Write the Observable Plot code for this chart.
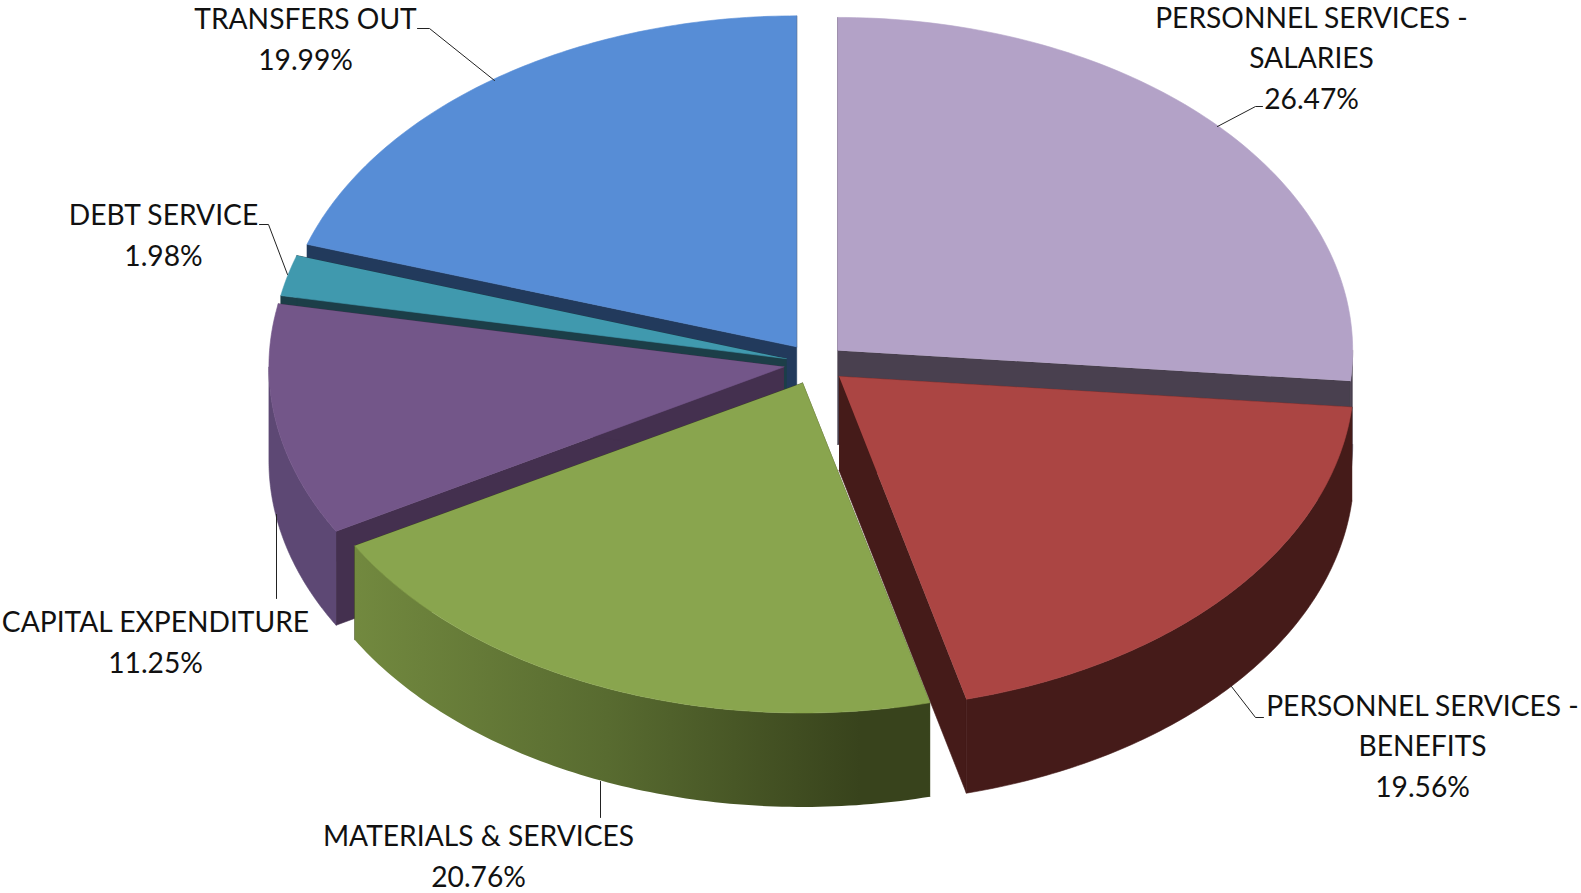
<!DOCTYPE html>
<html>
<head>
<meta charset="utf-8">
<script src="https://cdn.jsdelivr.net/npm/d3@7"></script>
<script src="https://cdn.jsdelivr.net/npm/@observablehq/plot@0.6"></script>
<style>html,body{margin:0;padding:0;background:#fff;overflow:hidden}svg{display:block}</style>
</head>
<body>
<div id="chart"></div>
<script>
// Chart values
const names = ["PERSONNEL SERVICES -\nSALARIES", "PERSONNEL SERVICES -\nBENEFITS", "MATERIALS & SERVICES", "CAPITAL EXPENDITURE", "DEBT SERVICE", "TRANSFERS OUT"];
const shares = [26.47, 19.56, 20.76, 11.25, 1.98, 19.99];
const topColors = ["#b3a2c7", "#ab4543", "#89a54e", "#735689", "#4099ae", "#578dd6"];
const sideColors = ["#49404f", "#451b19", "url(#greenWall)", "#5d4874", "#1c3e48", "#223a5c"];
const cutColors = ["#49404f", "#451b19", "#3a451e", "#44304f", "#1c3e48", "#223a5c"];
const explode = [30, 31, 33, 32, 30, 32];
const sliceRy = [333, 333, 330, 333, 333, 331];
const drawOrder = [5, 4, 3, 0, 1, 2];

// Layout of the tilted pie and its labels (pixels of the frame)
const cx = 815, cy = 363, rx = 515, depth = 94;
const labelX = [1311, 1422, 478, 155, 163, 305];
const labelY = [55, 743, 853, 639, 232, 36];
const leaders = [
  [[1217, 126], [1255, 106], [1262, 106]],
  [[1231, 686], [1255, 717], [1263, 717]],
  [[600, 781], [600, 817]],
  [[276, 514], [276, 598]],
  [[259, 224], [268, 224], [287, 274]],
  [[417, 28], [429, 28], [494, 80]]
];

const rad = (d) => d * Math.PI / 180;
const total = d3.sum(shares);
const cumulative = d3.cumsum(shares);
const slices = shares.map((v, i) => {
  const a0 = (cumulative[i] - v) / total * 360;
  const a1 = cumulative[i] / total * 360;
  const mid = rad((a0 + a1) / 2);
  const ry = sliceRy[i];
  return {i, a0, a1, ry, ax: cx + explode[i] * Math.sin(mid), ay: cy - explode[i] * Math.cos(mid) * ry / rx};
});
const rim = (s, a) => ({x: s.ax + rx * Math.sin(rad(a)), y: s.ay - s.ry * Math.cos(rad(a))});
const arc = (s, from, to) => d3.range(0, 1.0001, 1 / 90).map((t) => rim(s, from + (to - from) * t));
const drop = (p) => ({x: p.x, y: p.y + depth});
const shape = (points, fill) =>
  Plot.line(points, {x: "x", y: "y", fill, stroke: fill.startsWith("url") ? "none" : fill, strokeWidth: 0.6, curve: "linear"});

const marks = [
  () => {
    const ns = "http://www.w3.org/2000/svg";
    const g = document.createElementNS(ns, "g");
    const defs = g.appendChild(document.createElementNS(ns, "defs"));
    const grad = defs.appendChild(document.createElementNS(ns, "linearGradient"));
    grad.setAttribute("id", "greenWall");
    grad.setAttribute("gradientUnits", "userSpaceOnUse");
    grad.setAttribute("x1", 354); grad.setAttribute("x2", 860);
    grad.setAttribute("y1", 0); grad.setAttribute("y2", 0);
    [[0, "#72893f"], [0.5, "#586b30"], [1, "#38431c"]].forEach(([o, c]) => {
      const st = grad.appendChild(document.createElementNS(ns, "stop"));
      st.setAttribute("offset", o); st.setAttribute("stop-color", c);
    });
    return g;
  }
];

for (const i of drawOrder) {
  const s = slices[i];
  const apex = {x: s.ax, y: s.ay};
  // radial cut faces
  for (const a of [s.a0, s.a1]) {
    const e = rim(s, a);
    marks.push(shape([apex, e, drop(e), drop(apex)], cutColors[i]));
  }
  // outer wall (only its front half is visible)
  const f0 = Math.max(s.a0, 90), f1 = Math.min(s.a1, 270);
  if (f1 > f0) {
    const edge = arc(s, f0, f1);
    marks.push(shape([...edge, ...edge.map(drop).reverse()], sideColors[i]));
  }
  // top face
  marks.push(shape([apex, ...arc(s, s.a0, s.a1)], topColors[i]));
}

for (const l of leaders) {
  marks.push(Plot.line(l.map(([x, y]) => ({x, y})), {x: "x", y: "y", stroke: "#222", strokeWidth: 1, curve: "linear"}));
}

marks.push(Plot.text(names.map((n, i) => ({
  text: `${n}\n${shares[i].toFixed(2)}%`, x: labelX[i], y: labelY[i]
})), {
  x: "x", y: "y", text: "text", fontFamily: "Lato", fontSize: 28.2, lineHeight: 40.3 / 28.2,
  textAnchor: "middle", lineAnchor: "middle", fill: "#111"
}));

document.getElementById("chart").append(Plot.plot({
  width: 1581, height: 893, margin: 0,
  x: {axis: null, type: "linear", domain: [0, 1581], range: [0, 1581]},
  y: {axis: null, type: "linear", domain: [0, 893], range: [0, 893]},
  style: {background: "#fff", fontFamily: "Lato"},
  marks
}));
</script>
</body>
</html>
